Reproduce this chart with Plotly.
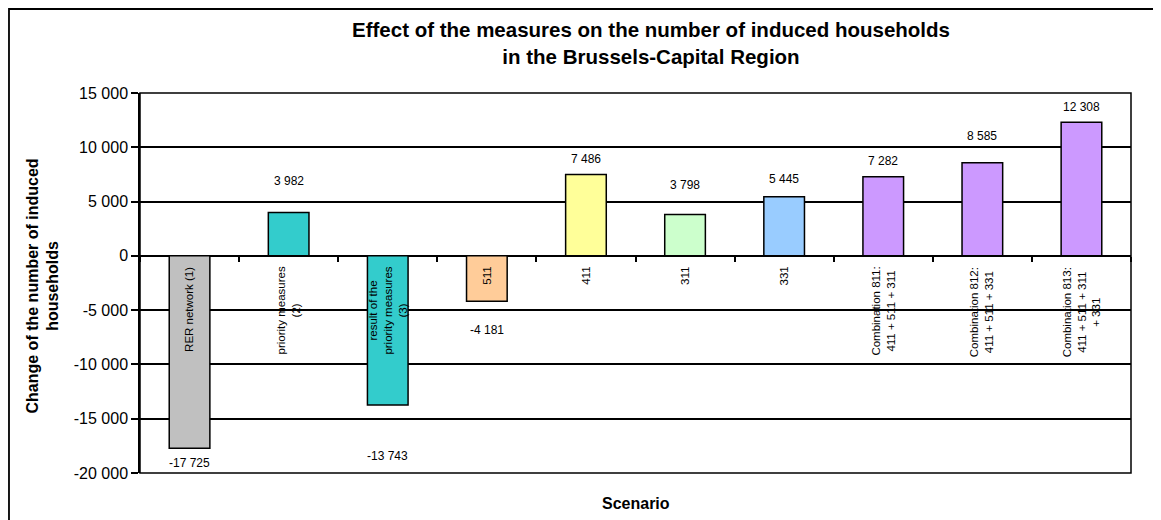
import plotly.graph_objects as go

# ---- data ----
categories = [
    "RER network (1)",
    "priority measures<br>(2)",
    "result of the<br>priority measures<br>(3)",
    "511",
    "411",
    "311",
    "331",
    "Combination 811:<br>411 + 511 + 311",
    "Combination 812:<br>411 + 511 + 331",
    "Combination 813:<br>411 + 511 + 311<br>+ 331",
]
values = [-17725, 3982, -13743, -4181, 7486, 3798, 5445, 7282, 8585, 12308]
bar_colors = ["#C0C0C0", "#33CCCC", "#33CCCC", "#FFCC99", "#FFFF99",
              "#CCFFCC", "#99CCFF", "#CC99FF", "#CC99FF", "#CC99FF"]
y_tick_vals = [15000, 10000, 5000, 0, -5000, -10000, -15000, -20000]
y_tick_text = ["15 000", "10 000", "5 000", "0", "-5 000", "-10 000", "-15 000", "-20 000"]
# label distance (px) from bar end, as placed in the original
label_offsets = [15, 32, 51, 29, 16, 30, 18, 16, 27, 15]

FONT = "Liberation Sans, Arial, sans-serif"

fig = go.Figure()
fig.add_trace(go.Bar(
    x=categories, y=values,
    marker=dict(color=bar_colors, line=dict(color="black", width=1.5)),
    width=0.41, showlegend=False, hoverinfo="x+y",
))

annotations = []
# value labels (x given as category index)
for i, (v, off) in enumerate(zip(values, label_offsets)):
    annotations.append(dict(
        x=i, y=v, xref="x", yref="y", showarrow=False,
        text=f"{v:,}".replace(",", " "),
        font=dict(family=FONT, size=12, color="black"),
        yanchor="middle", yshift=off if v >= 0 else -off,
    ))
# category labels (rotated, hanging from the zero line)
for i, c in enumerate(categories):
    annotations.append(dict(
        x=i, y=0, xref="x", yref="y", showarrow=False, text=c,
        textangle=-90, align="center", yanchor="top", yshift=-9,
        font=dict(family=FONT, size=11.5, color="black"),
    ))
# title
annotations.append(dict(
    x=0.5156, y=1.1316, xref="paper", yref="paper", showarrow=False,
    text="<b>Effect of the measures on the number of induced households<br>in the Brussels-Capital Region</b>",
    font=dict(family=FONT, size=20.5, color="black"), align="center",
    xanchor="center", yanchor="middle",
))
# y axis title
annotations.append(dict(
    x=0, y=0.5, xref="paper", yref="paper", showarrow=False,
    text="<b>Change of the number of induced<br>households</b>",
    textangle=-90, align="center", xanchor="center", yanchor="middle",
    xshift=-97.5, yshift=-3,
    font=dict(family=FONT, size=16, color="black"),
))
# x axis title
annotations.append(dict(
    x=0.5, y=0, xref="paper", yref="paper", showarrow=False,
    text="<b>Scenario</b>", xanchor="center", yanchor="middle", yshift=-30,
    font=dict(family=FONT, size=16, color="black"),
))

shapes = [
    # plot area border
    dict(type="rect", xref="paper", yref="paper", x0=0, x1=1, y0=0, y1=1,
         line=dict(color="black", width=1.5), layer="above"),
    # outer chart border
    dict(type="rect", xref="paper", yref="paper",
         x0=-0.1322, x1=1.1, y0=-0.2, y1=1.2211,
         line=dict(color="black", width=1.8), layer="above"),
]

fig.update_layout(
    width=1161, height=520, autosize=False,
    margin=dict(l=132, r=38, t=85, b=55, pad=0),
    paper_bgcolor="white", plot_bgcolor="white",
    font=dict(family=FONT, color="black"),
    annotations=annotations, shapes=shapes,
    yaxis=dict(
        range=[-20000, 15000], tickmode="array",
        tickvals=y_tick_vals, ticktext=y_tick_text,
        showgrid=True, gridcolor="black", gridwidth=1.5,
        zeroline=False, showline=True, linecolor="black", linewidth=1.5,
        ticks="outside", ticklen=7, tickwidth=1.5, tickcolor="black",
        tickfont=dict(family=FONT, size=16, color="black"),
    ),
    xaxis=dict(
        type="category", categoryorder="array", categoryarray=categories,
        range=[-0.5, len(categories) - 0.5],
        showticklabels=False, showgrid=False, zeroline=False, showline=False,
        anchor="free", position=20000 / 35000,
        ticks="outside", tickson="boundaries", ticklen=5, tickwidth=1.5,
        tickcolor="black",
    ),
)

fig.write_html("out.html")
